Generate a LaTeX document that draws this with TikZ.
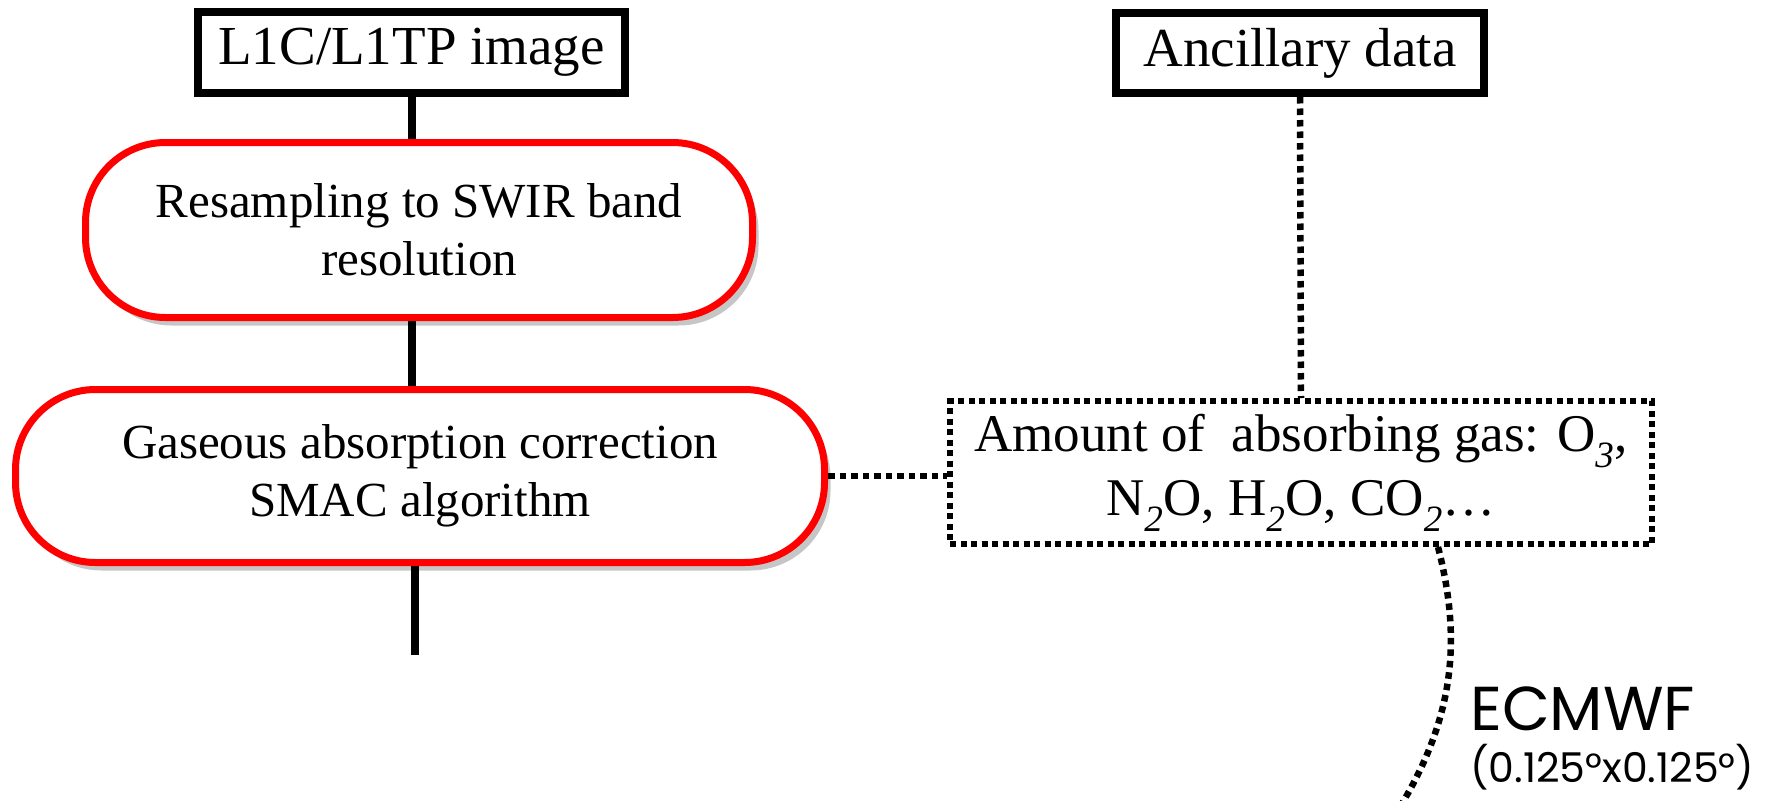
\documentclass[tikz,border=0pt]{standalone}
\usepackage{fontspec}
\setmainfont{Liberation Serif}
\newfontfamily\geo{Poppins}
\usetikzlibrary{shadows,calc}
\tikzset{
 plainbox/.style={draw=black, line width=8pt, fill=white, inner sep=0pt, align=center, font=\fontsize{55}{60}\selectfont},
 procbox/.style={draw=red, line width=7pt, fill=white, rounded corners=80pt, inner sep=0pt, align=center, font=\fontsize{49}{58}\selectfont, drop shadow={shadow xshift=6pt, shadow yshift=-8pt, fill=black!50, opacity=0.45}},
 dotbox/.style={draw=black, line width=6pt, dash pattern=on 6pt off 4.5pt, inner sep=0pt, align=center, font=\fontsize{53}{64}\selectfont},
 solidline/.style={line width=8pt},
 dotline/.style={line width=6.5pt, dash pattern=on 6.5pt off 5pt},
 sidelabel/.style={anchor=base west, inner sep=0pt},
}
\begin{document}
\begin{tikzpicture}[x=1pt,y=-1pt]
\useasboundingbox (0,0) rectangle (1768,800);
\clip (0,0) rectangle (1768,800);
\node[plainbox, minimum width=427pt, minimum height=81pt] (l1c) at (411.5,52.5) {L1C/L1TP image};
\node[plainbox, minimum width=368pt, minimum height=80pt] (anc) at (1300,53) {Ancillary data};
\node[procbox, minimum width=667pt, minimum height=175pt] (res) at (419,230) {Resampling to SWIR band\\resolution};
\node[procbox, minimum width=809pt, minimum height=173pt] (gas) at (420,476) {Gaseous absorption correction\\SMAC algorithm};
\node[dotbox, minimum width=702pt, minimum height=143pt] (amt) at (1301,472.5) {Amount of\ \ absorbing gas: O\textsubscript{\textit{3}},\\N\textsubscript{\textit{2}}O, H\textsubscript{\textit{2}}O, CO\textsubscript{\textit{2}}\dots};
\coordinate (trunk) at (412,0);
\draw[solidline] (l1c.south -| trunk) -- (res.north -| trunk);
\draw[solidline] (res.south -| trunk) -- (gas.north -| trunk);
\coordinate (gasout) at (415,655);
\draw[solidline] (gas.south -| gasout) -- (gasout);
\draw[dotline] (gas.east) -- (gas.east -| amt.west);
\draw[dotline] (anc.south) -- (amt.north);
\coordinate (ecend) at (1395,815);
\draw[dotline] ([xshift=137pt]amt.south) .. controls (1462,640) and (1455,720) .. (ecend);
\node[sidelabel, font=\geo\fontsize{62}{66}\selectfont] (ecm) at (1470,730) {ECMWF};
\node[sidelabel, font=\geo\fontsize{41}{45}\selectfont] (grid) at (1470,782) {(0.125°x0.125°)};
\end{tikzpicture}
\end{document}
